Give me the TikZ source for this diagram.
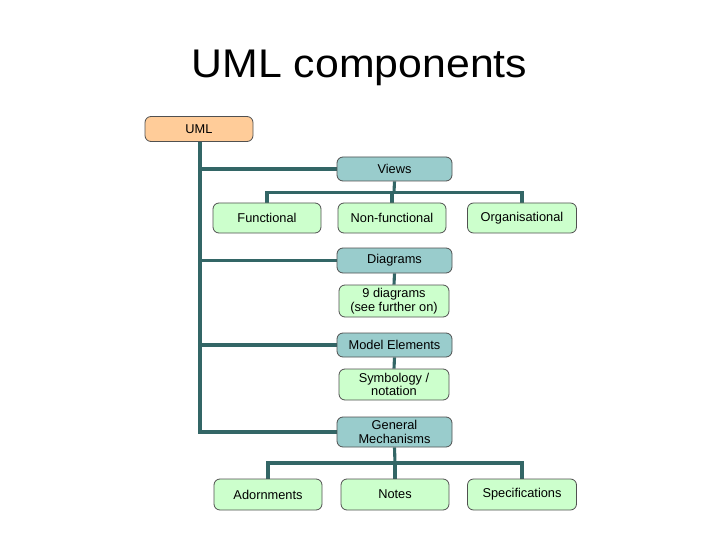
\documentclass[tikz,border=0pt]{standalone}
\usepackage{fontspec}
\setmainfont{Liberation Sans}
\usetikzlibrary{backgrounds}
\definecolor{linec}{HTML}{336666}
\definecolor{peach}{HTML}{FFCC99}
\definecolor{teal1}{HTML}{99CCCC}
\definecolor{green1}{HTML}{CCFFCC}
\definecolor{bord}{HTML}{505050}
\begin{document}
\begin{tikzpicture}[x=1pt,y=-1pt,
  box/.style={draw=bord,line width=0.8pt,rounded corners=6pt,align=center,inner sep=0pt,
    font=\fontsize{12.8}{13.5}\selectfont},
  top/.style={box,fill=peach},
  mid/.style={box,fill=teal1},
  leaf/.style={box,fill=green1},
  conn/.style={draw=linec,line width=3.1pt}]
\useasboundingbox (0,0) rectangle (720,540);
\node[anchor=base,inner sep=0pt] (title) at (359.5,78) {\fontsize{40}{44}\selectfont\scalebox{1.07}[1]{UML components}};
\node[top,minimum width=108pt,minimum height=25pt] (uml) at (199,129) {UML};
\node[mid,minimum width=115pt,minimum height=24pt] (views) at (394.5,169) {Views};
\node[leaf,minimum width=108pt,minimum height=30pt] (func) at (267,218) {Functional};
\node[leaf,minimum width=108pt,minimum height=30pt] (nonf) at (392,218) {Non-functional};
\node[leaf,minimum width=109pt,minimum height=30pt] (org) at (522,218) {Organisational};
\node[mid,minimum width=115pt,minimum height=25pt] (diag) at (394.5,260.5) {Diagrams};
\node[leaf,minimum width=110pt,minimum height=32pt] (nine) at (394,301) {9 diagrams\\(see further on)};
\node[mid,minimum width=115pt,minimum height=24pt] (model) at (394.5,345) {Model Elements};
\node[leaf,minimum width=110pt,minimum height=31pt] (symb) at (394,384.5) {Symbology /\\notation};
\node[mid,minimum width=115pt,minimum height=30pt] (gm) at (394.5,432) {General\\Mechanisms};
\node[leaf,minimum width=108pt,minimum height=31pt] (adorn) at (268,494.5) {Adornments};
\node[leaf,minimum width=108pt,minimum height=31pt] (notes) at (395,494.5) {Notes};
\node[leaf,minimum width=109pt,minimum height=31pt] (spec) at (522,494.5) {Specifications};
\begin{scope}[on background layer]
% trunk
\draw[conn] ([xshift=1pt]uml.south) -- ([xshift=1pt]uml.south |- gm.west) -- (gm.west);
\draw[conn] ([xshift=1pt]uml.south |- views.west) -- (views.west);
\draw[conn] ([xshift=1pt]uml.south |- diag.west) -- (diag.west);
\draw[conn] ([xshift=1pt]uml.south |- model.west) -- (model.west);
% views bus
\coordinate (vbus) at (394,192.5);
\draw[conn] (views.south) -- (vbus);
\draw[conn] (func.north) |- (vbus) -| (org.north);
\draw[conn] (nonf.north) -- (nonf.north |- vbus);
% diagrams / model
\draw[conn] (diag.south) -- (nine.north);
\draw[conn] (model.south) -- (symb.north);
% gm bus
\coordinate (gbus) at (395,463);
\draw[conn] (gm.south) -- (gbus);
\draw[conn] (adorn.north) |- (gbus) -| (spec.north);
\draw[conn] (notes.north) -- (notes.north |- gbus);
\end{scope}
\end{tikzpicture}
\end{document}
